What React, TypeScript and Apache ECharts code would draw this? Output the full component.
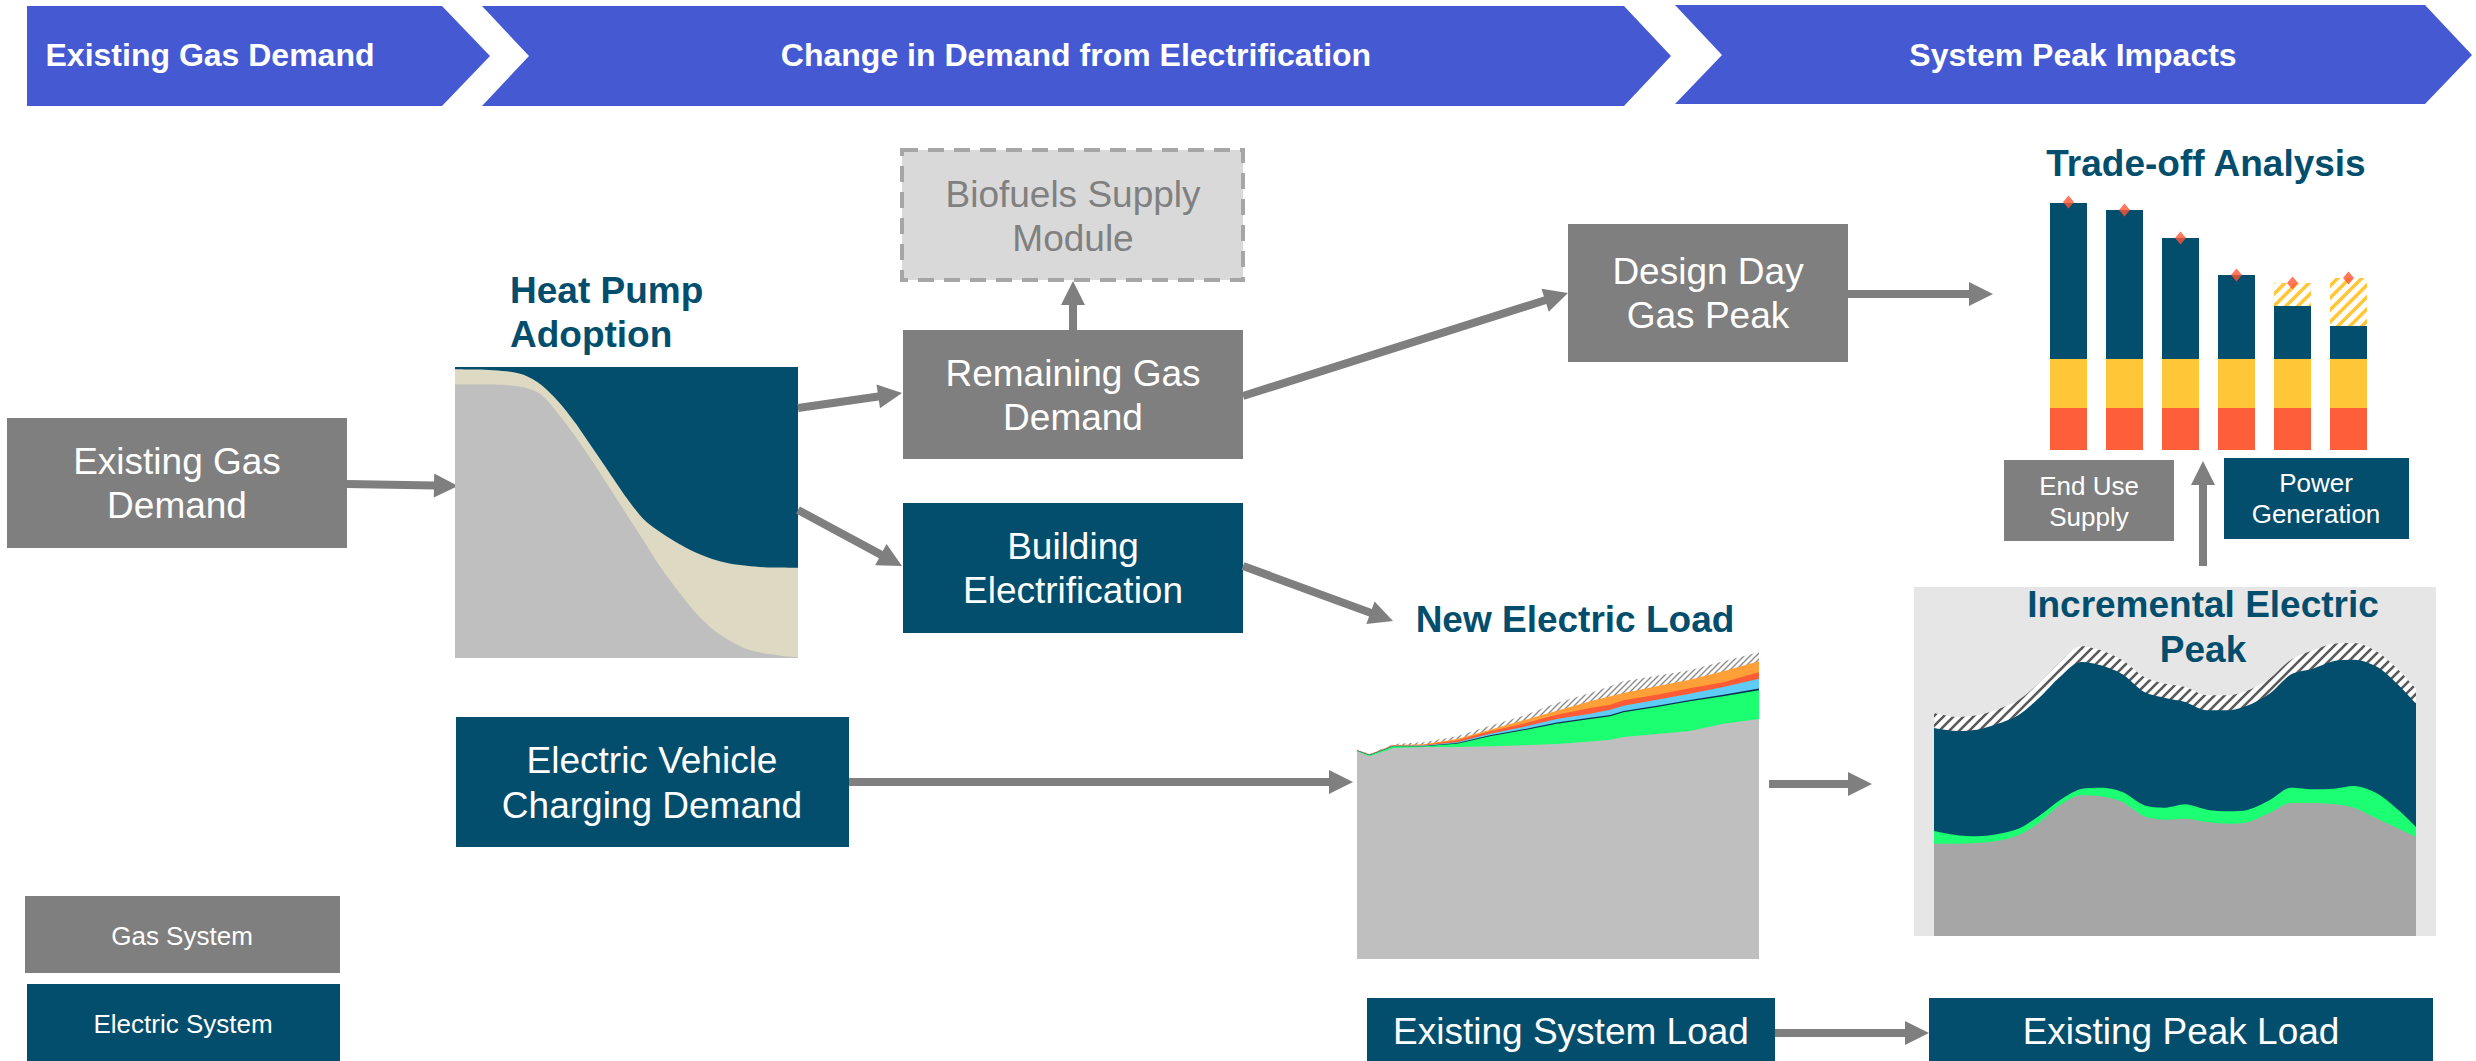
import React, { useEffect, useRef } from 'react';
import * as echarts from 'echarts';

const FONT = '"Liberation Sans", Arial, Helvetica, sans-serif';
const TEAL = '#044E6D';
const GASGRAY = '#7F7F7F';
const BANNER = '#4559D3';

// ---- Heat Pump Adoption (share of homes, 0..1) ----
const hpX = [0, 5, 10, 15, 20, 25, 30, 35, 40, 45, 50, 55, 60, 65, 70, 75, 80, 85, 90, 95, 100];
const hpGas = [0.94, 0.94, 0.94, 0.938, 0.93, 0.906, 0.84, 0.763, 0.677, 0.586, 0.494, 0.403, 0.311, 0.231, 0.157, 0.1, 0.06, 0.031, 0.016, 0.008, 0.003];
const hpHybridTop = [0.992, 0.991, 0.99, 0.985, 0.973, 0.94, 0.883, 0.809, 0.723, 0.637, 0.551, 0.477, 0.431, 0.394, 0.363, 0.34, 0.325, 0.317, 0.312, 0.311, 0.31];

// ---- New Electric Load (cumulative layer tops) ----
const nlX = [0, 3.1, 9.1, 16.6, 24.9, 33.1, 41.4, 49.7, 58, 63, 66.3, 74.6, 82.8, 91.1, 100];
const nlBase = [207.7, 202.7, 211, 212, 212, 212.7, 213.7, 215, 217.5, 219.3, 222, 225, 228, 235.3, 240];
const nlBuildings = [208.3, 203.7, 212.7, 212.7, 215.3, 222.7, 228.7, 235.3, 240, 242.7, 246.7, 252, 257.7, 262.7, 268.7];
const nlNavy = [208.5, 204, 213, 213, 216, 223.7, 229.7, 236.5, 241.3, 244, 248, 253.3, 259, 264.2, 270.5];
const nlBlue = [208.7, 204.2, 213.2, 213.5, 216.7, 225.3, 232, 240, 245.3, 249.3, 253.3, 259.3, 265.3, 272, 280.3];
const nlRed = [208.9, 204.5, 213.7, 214, 218.7, 227.7, 235.3, 244.3, 251, 254.3, 258.7, 264.3, 270.7, 276.7, 286.7];
const nlOrange = [209, 204.7, 214, 214.7, 220, 229.3, 238.7, 248.3, 257.7, 262.7, 266, 272.7, 279.3, 287.7, 297.7];
const nlHatch = [209.3, 205, 215, 216.7, 222.7, 233.3, 243.3, 256, 266, 272.7, 277.7, 283.3, 288.7, 297.7, 306.7];

// ---- Incremental Electric Peak (cumulative layer tops) ----
const ipX = [0, 4.8, 8.9, 13, 17.5, 22, 26.1, 30.5, 34.6, 39.1, 43.6, 48, 52.1, 56.6, 61.1, 65.2, 69.6, 74.1, 78.6, 83, 87.1, 92, 96.4, 100];
const ipBase = [92.3, 92.3, 93, 95, 100.7, 114, 130.7, 140.7, 139.7, 134, 119.7, 116.3, 117.3, 114, 112.3, 114, 123, 133, 133, 131.7, 128.3, 117.3, 107.3, 99];
const ipGreen = [105, 100.7, 99.7, 101.7, 107.3, 120.7, 135.7, 147, 148.3, 144, 130.7, 128.3, 131.7, 126.3, 124.7, 126.3, 135.7, 148.3, 146.7, 147.3, 150, 142.3, 125.7, 109];
const ipTeal = [208, 205, 206.3, 211.7, 220.7, 239, 259, 274, 270.7, 261.7, 244, 238, 234, 225.7, 225.7, 230.7, 242.3, 261.7, 267.3, 275, 276.3, 269, 250.7, 232.3];
const ipHatch = [223, 219, 220.7, 226.3, 235.7, 254, 274, 289.7, 285.7, 275.7, 259, 252.3, 249, 240.7, 240.7, 245.7, 257.3, 276.3, 285.7, 292.3, 293, 284, 265.7, 247.3];

// ---- Trade-off Analysis ----
const toCats = ['P1', 'P2', 'P3', 'P4', 'P5', 'P6'];
const toRed = [42, 42, 42, 42, 42, 42];
const toYellow = [49, 49, 49, 49, 49, 49];
const toTeal = [156, 149, 121, 84, 53, 33];
const toHatch = [0, 0, 0, 0, 23, 48];
const toMarker = [248, 240, 212, 175, 167, 172];

function stripes(fg: string, bg: string, size: number, lw: number) {
  const c = document.createElement('canvas');
  c.width = size;
  c.height = size;
  const ctx = c.getContext('2d')!;
  ctx.fillStyle = bg;
  ctx.fillRect(0, 0, size, size);
  ctx.strokeStyle = fg;
  ctx.lineWidth = lw;
  ctx.beginPath();
  ctx.moveTo(0, size); ctx.lineTo(size, 0);
  ctx.moveTo(-size / 2, size / 2); ctx.lineTo(size / 2, -size / 2);
  ctx.moveTo(size / 2, size * 1.5); ctx.lineTo(size * 1.5, size / 2);
  ctx.stroke();
  return { image: c, repeat: 'repeat', imageWidth: size, imageHeight: size } as any;
}

function arrow(x1: number, y1: number, x2: number, y2: number, w = 8, hl = 24, hw = 24) {
  const dx = x2 - x1, dy = y2 - y1;
  const L = Math.sqrt(dx * dx + dy * dy);
  const ux = dx / L, uy = dy / L;
  const nx = -uy, ny = ux;
  const ex = x2 - ux * hl, ey = y2 - uy * hl;
  const pts = [
    [x1 + nx * w / 2, y1 + ny * w / 2],
    [ex + nx * w / 2, ey + ny * w / 2],
    [ex + nx * hw / 2, ey + ny * hw / 2],
    [x2, y2],
    [ex - nx * hw / 2, ey - ny * hw / 2],
    [ex - nx * w / 2, ey - ny * w / 2],
    [x1 - nx * w / 2, y1 - ny * w / 2],
  ];
  return { type: 'polygon', shape: { points: pts }, style: { fill: GASGRAY }, z: 1, silent: true };
}

function rect(x: number, y: number, w: number, h: number, fill: string, extra: any = {}, z = 1) {
  return { type: 'rect', shape: { x, y, width: w, height: h }, style: { fill, ...extra }, z, silent: true };
}

function txt(t: string, x: number, y: number, size: number, color: string, bold = false, align = 'center') {
  return {
    type: 'text', x, y, z: 100, silent: true,
    style: {
      text: t, fill: color, font: `${bold ? 'bold ' : ''}${size}px ${FONT}`,
      textAlign: align, textVerticalAlign: 'middle', align, verticalAlign: 'middle',
    },
  };
}

function area(name: string, xs: number[], ys: number[], color: any, idx: number, smooth: any) {
  return {
    type: 'line', name, xAxisIndex: idx, yAxisIndex: idx,
    data: xs.map((x, i) => [x, ys[i]]),
    smooth, symbol: 'none', showSymbol: false,
    lineStyle: { width: 0, opacity: 0 }, areaStyle: { color, opacity: 1 }, silent: true,
  };
}

export default function App() {
  const ref = useRef<HTMLDivElement>(null);
  useEffect(() => {
    if (!ref.current) return;
    const chart = echarts.init(ref.current, undefined, { renderer: 'svg' });

    const hatchGray = stripes('#8C8C8C', '#FFFFFF', 6, 1.4);
    const hatchDark = stripes('#5A5A5A', '#FFFFFF', 10, 2.6);
    const hatchYellow = stripes('#FFC637', '#FFFFFF', 12, 3.5);

    const graphics: any[] = [
      // banners
      { type: 'polygon', shape: { points: [[27, 6], [442, 6], [490, 56], [442, 106], [27, 106]] }, style: { fill: BANNER }, z: 1, silent: true },
      { type: 'polygon', shape: { points: [[482, 6], [1624, 6], [1671, 56], [1624, 106], [482, 106], [529, 56]] }, style: { fill: BANNER }, z: 1, silent: true },
      { type: 'polygon', shape: { points: [[1675, 5], [2425, 5], [2472, 55], [2425, 104], [1675, 104], [1722, 55]] }, style: { fill: BANNER }, z: 1, silent: true },
      txt('Existing Gas Demand', 210, 55, 32, '#FFFFFF', true),
      txt('Change in Demand from Electrification', 1076, 55, 32, '#FFFFFF', true),
      txt('System Peak Impacts', 2073, 55, 32, '#FFFFFF', true),

      // boxes
      rect(7, 418, 340, 130, GASGRAY),
      txt('Existing Gas', 177, 461, 37, '#FFFFFF'),
      txt('Demand', 177, 505, 37, '#FFFFFF'),

      rect(902, 150, 341, 130, '#D9D9D9', { stroke: '#A6A6A6', lineWidth: 4, lineDash: [16, 10] }),
      txt('Biofuels Supply', 1073, 194, 37, '#808080'),
      txt('Module', 1073, 238, 37, '#808080'),

      rect(903, 330, 340, 129, GASGRAY),
      txt('Remaining Gas', 1073, 373, 37, '#FFFFFF'),
      txt('Demand', 1073, 417, 37, '#FFFFFF'),

      rect(903, 503, 340, 130, TEAL),
      txt('Building', 1073, 546, 37, '#FFFFFF'),
      txt('Electrification', 1073, 590, 37, '#FFFFFF'),

      rect(1568, 224, 280, 138, GASGRAY),
      txt('Design Day', 1708, 271, 37, '#FFFFFF'),
      txt('Gas Peak', 1708, 315, 37, '#FFFFFF'),

      rect(456, 717, 393, 130, TEAL),
      txt('Electric Vehicle', 652, 760, 37, '#FFFFFF'),
      txt('Charging Demand', 652, 805, 37, '#FFFFFF'),

      rect(1367, 998, 408, 70, TEAL),
      txt('Existing System Load', 1571, 1031, 37, '#FFFFFF'),
      rect(1929, 998, 504, 70, TEAL),
      txt('Existing Peak Load', 2181, 1031, 37, '#FFFFFF'),

      rect(2004, 460, 170, 81, GASGRAY),
      txt('End Use', 2089, 486, 26, '#FFFFFF'),
      txt('Supply', 2089, 517, 26, '#FFFFFF'),
      rect(2224, 458, 185, 81, TEAL),
      txt('Power', 2316, 483, 26, '#FFFFFF'),
      txt('Generation', 2316, 514, 26, '#FFFFFF'),

      // legend
      rect(25, 896, 315, 77, GASGRAY),
      txt('Gas System', 182, 936, 26, '#FFFFFF'),
      rect(27, 984, 313, 80, TEAL),
      txt('Electric System', 183, 1024, 26, '#FFFFFF'),

      // incremental panel background
      rect(1914, 587, 522, 349, '#E6E6E6', {}, 0),

      // titles
      txt('Heat Pump', 510, 290, 37, TEAL, true, 'left'),
      txt('Adoption', 510, 334, 37, TEAL, true, 'left'),
      txt('New Electric Load', 1575, 619, 37, TEAL, true),
      txt('Trade-off Analysis', 2206, 163, 37, TEAL, true),
      txt('Incremental Electric', 2203, 604, 37, TEAL, true),
      txt('Peak', 2203, 649, 37, TEAL, true),

      // arrows
      arrow(347, 484, 458, 486),
      arrow(798, 408, 902, 393),
      arrow(798, 510, 902, 566),
      arrow(1073, 330, 1073, 281),
      arrow(1243, 396, 1568, 293),
      arrow(1848, 294, 1993, 294),
      arrow(1243, 566, 1393, 621),
      arrow(849, 782, 1353, 782),
      arrow(1769, 784, 1872, 784),
      arrow(2203, 566, 2203, 461),
      arrow(1775, 1033, 1929, 1033),
    ];

    const hidden = { show: false };
    const option: any = {
      animation: false,
      backgroundColor: '#FFFFFF',
      grid: [
        { left: 455, top: 367, width: 343, height: 291, show: true, backgroundColor: TEAL, borderWidth: 0 },
        { left: 1357, top: 640, width: 402, height: 319 },
        { left: 1934, top: 637, width: 482, height: 299 },
        { left: 2040.5, top: 200, width: 336, height: 250 },
      ],
      xAxis: [
        { type: 'value', gridIndex: 0, min: 0, max: 100, ...hidden },
        { type: 'value', gridIndex: 1, min: 0, max: 100, ...hidden },
        { type: 'value', gridIndex: 2, min: 0, max: 100, ...hidden },
        { type: 'category', gridIndex: 3, data: toCats, ...hidden },
      ],
      yAxis: [
        { type: 'value', gridIndex: 0, min: 0, max: 1, ...hidden },
        { type: 'value', gridIndex: 1, min: 0, max: 319, ...hidden },
        { type: 'value', gridIndex: 2, min: 0, max: 299, ...hidden },
        { type: 'value', gridIndex: 3, min: 0, max: 250, ...hidden },
      ],
      series: [
        area('Hybrid', hpX, hpHybridTop, '#DDD9C3', 0, 0.3),
        area('Gas furnace', hpX, hpGas, '#BFBFBF', 0, 0.3),

        area('Uncertainty', nlX, nlHatch, hatchGray, 1, false),
        area('Other', nlX, nlOrange, '#FF9F38', 1, false),
        area('Industrial', nlX, nlRed, '#FF5B35', 1, false),
        area('Commercial', nlX, nlBlue, '#5ECCF7', 1, false),
        area('EV', nlX, nlNavy, '#0B2F4F', 1, false),
        area('Buildings', nlX, nlBuildings, '#1CFF70', 1, false),
        area('Existing', nlX, nlBase, '#BFBFBF', 1, false),

        area('Peak uncertainty', ipX, ipHatch, hatchDark, 2, 0.3),
        area('Incremental', ipX, ipTeal, TEAL, 2, 0.3),
        area('Buildings peak', ipX, ipGreen, '#1CFF73', 2, 0.3),
        area('Existing peak', ipX, ipBase, '#A6A6A6', 2, 0.3),

        { type: 'bar', name: 'Power', xAxisIndex: 3, yAxisIndex: 3, stack: 't', barWidth: 37, data: toRed, itemStyle: { color: '#FF5E3A' }, silent: true },
        { type: 'bar', name: 'Supply', xAxisIndex: 3, yAxisIndex: 3, stack: 't', barWidth: 37, data: toYellow, itemStyle: { color: '#FFC637' }, silent: true },
        { type: 'bar', name: 'Peak', xAxisIndex: 3, yAxisIndex: 3, stack: 't', barWidth: 37, data: toTeal, itemStyle: { color: TEAL }, silent: true },
        { type: 'bar', name: 'Biofuel', xAxisIndex: 3, yAxisIndex: 3, stack: 't', barWidth: 37, data: toHatch, itemStyle: { color: hatchYellow }, silent: true },
        { type: 'scatter', name: 'Total', xAxisIndex: 3, yAxisIndex: 3, data: toMarker, symbol: 'diamond', symbolSize: [11, 13], itemStyle: { color: '#FF5533' }, z: 5, silent: true },
      ],
      graphic: { elements: graphics },
    };
    chart.setOption(option);
    return () => chart.dispose();
  }, []);
  return <div ref={ref} style={{ position: 'absolute', left: 0, top: 0, width: 2476, height: 1061, background: '#FFFFFF' }} />;
}
